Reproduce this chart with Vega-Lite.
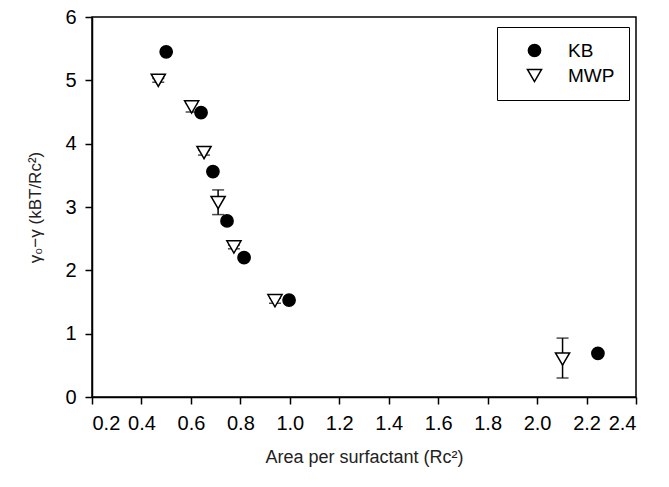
{
  "$schema": "https://vega.github.io/schema/vega-lite/v6.json",
  "width": 544,
  "height": 380,
  "autosize": {"type": "none"},
  "padding": {"left": 92, "top": 17, "right": 33, "bottom": 90},
  "background": "white",
  "config": {
    "font": "Liberation Sans",
    "view": {"stroke": "black", "strokeWidth": 1.5},
    "axis": {
      "grid": false,
      "domainColor": "black",
      "domainWidth": 1.5,
      "tickColor": "black",
      "tickWidth": 1.5,
      "tickSize": 7,
      "labelColor": "black",
      "labelFont": "Liberation Sans",
      "labelFontSize": 20,
      "titleFont": "Liberation Sans",
      "titleFontWeight": "normal",
      "titleColor": "#222"
    },
    "legend": {
      "labelFont": "Liberation Sans",
      "labelFontSize": 19,
      "labelColor": "black"
    }
  },
  "data": {
    "values": [
      {"series": "KB", "x": 0.5, "y": 5.45},
      {"series": "KB", "x": 0.641, "y": 4.49},
      {"series": "KB", "x": 0.689, "y": 3.56},
      {"series": "KB", "x": 0.746, "y": 2.78},
      {"series": "KB", "x": 0.815, "y": 2.2},
      {"series": "KB", "x": 0.997, "y": 1.53},
      {"series": "KB", "x": 2.246, "y": 0.69},
      {"series": "MWP", "x": 0.468, "y": 5.0, "lo": 4.97, "hi": 5.03},
      {"series": "MWP", "x": 0.603, "y": 4.58, "lo": 4.5, "hi": 4.63},
      {"series": "MWP", "x": 0.653, "y": 3.86, "lo": 3.82, "hi": 3.9},
      {"series": "MWP", "x": 0.71, "y": 3.07, "lo": 2.88, "hi": 3.27},
      {"series": "MWP", "x": 0.774, "y": 2.37, "lo": 2.34, "hi": 2.4},
      {"series": "MWP", "x": 0.94, "y": 1.52, "lo": 1.48, "hi": 1.56},
      {"series": "MWP", "x": 2.103, "y": 0.6, "lo": 0.3, "hi": 0.93}
    ]
  },
  "layer": [
    {
      "transform": [{"filter": "datum.series === 'MWP'"}],
      "mark": {"type": "rule", "color": "black", "strokeWidth": 1.5},
      "encoding": {
        "x": {"field": "x", "type": "quantitative"},
        "y": {"field": "lo", "type": "quantitative"},
        "y2": {"field": "hi"}
      }
    },
    {
      "transform": [{"filter": "datum.series === 'MWP'"}],
      "mark": {"type": "tick", "orient": "horizontal", "color": "black", "size": 12, "thickness": 1.5},
      "encoding": {
        "x": {"field": "x", "type": "quantitative"},
        "y": {"field": "lo", "type": "quantitative"}
      }
    },
    {
      "transform": [{"filter": "datum.series === 'MWP'"}],
      "mark": {"type": "tick", "orient": "horizontal", "color": "black", "size": 12, "thickness": 1.5},
      "encoding": {
        "x": {"field": "x", "type": "quantitative"},
        "y": {"field": "hi", "type": "quantitative"}
      }
    },
    {
      "mark": {"type": "point", "filled": false, "strokeWidth": 1.5, "opacity": 1},
      "encoding": {
        "x": {
          "field": "x",
          "type": "quantitative",
          "scale": {"domain": [0.2, 2.4], "nice": false, "zero": false},
          "axis": {
            "title": "Area per surfactant (Rc²)",
            "titleFontSize": 18,
            "values": [0.2, 0.4, 0.6, 0.8, 1.0, 1.2, 1.4, 1.6, 1.8, 2.0, 2.2, 2.4],
            "format": ".1f",
            "labelPadding": 9,
            "titlePadding": 15
          }
        },
        "y": {
          "field": "y",
          "type": "quantitative",
          "scale": {"domain": [0, 6], "nice": false},
          "axis": {
            "title": "γ₀−γ (kBT/Rc²)",
            "titleFontSize": 17,
            "values": [0, 1, 2, 3, 4, 5, 6],
            "format": "d",
            "labelPadding": 9,
            "titlePadding": 20
          }
        },
        "shape": {
          "field": "series",
          "type": "nominal",
          "scale": {"domain": ["KB", "MWP"], "range": ["circle", "triangle-down"]},
          "legend": {
            "title": null,
            "orient": "none",
            "legendX": 405,
            "legendY": 10,
            "strokeColor": "black",
            "padding": 14,
            "symbolOffset": 14,
            "labelOffset": 24,
            "rowPadding": 5,
            "symbolStrokeWidth": 1.5
          }
        },
        "fill": {
          "field": "series",
          "type": "nominal",
          "scale": {"domain": ["KB", "MWP"], "range": ["black", "white"]},
          "legend": {
            "title": null,
            "orient": "none",
            "legendX": 405,
            "legendY": 10,
            "strokeColor": "black",
            "padding": 14,
            "symbolOffset": 14,
            "labelOffset": 24,
            "rowPadding": 5,
            "symbolStrokeWidth": 1.5
          }
        },
        "stroke": {
          "field": "series",
          "type": "nominal",
          "scale": {"domain": ["KB", "MWP"], "range": ["black", "black"]},
          "legend": {
            "title": null,
            "orient": "none",
            "legendX": 405,
            "legendY": 10,
            "strokeColor": "black",
            "padding": 14,
            "symbolOffset": 14,
            "labelOffset": 24,
            "rowPadding": 5,
            "symbolStrokeWidth": 1.5
          }
        },
        "size": {
          "field": "series",
          "type": "nominal",
          "scale": {"domain": ["KB", "MWP"], "range": [150, 200]},
          "legend": {
            "title": null,
            "orient": "none",
            "legendX": 405,
            "legendY": 10,
            "strokeColor": "black",
            "padding": 14,
            "symbolOffset": 14,
            "labelOffset": 24,
            "rowPadding": 5,
            "symbolStrokeWidth": 1.5
          }
        }
      }
    }
  ]
}
